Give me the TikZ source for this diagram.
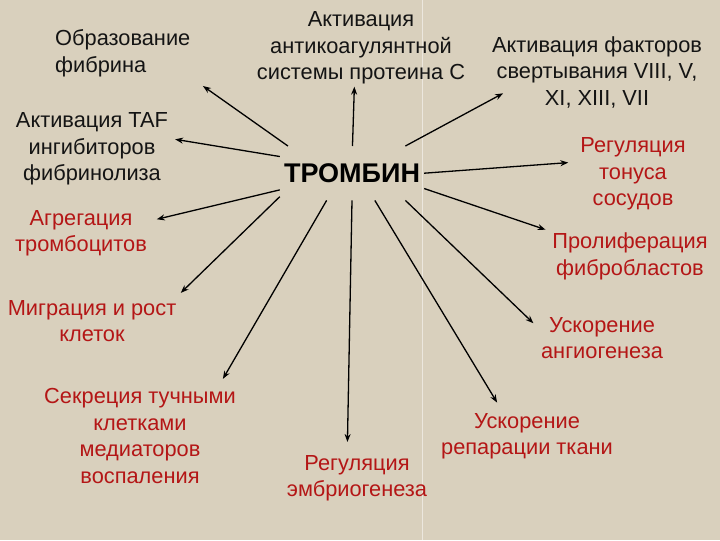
\documentclass[tikz,border=0pt]{standalone}
\usepackage{fontspec}
\setmainfont{Liberation Sans}
\usetikzlibrary{arrows.meta,calc}
\definecolor{bgtan}{RGB}{217,208,189}
\definecolor{effred}{RGB}{180,22,22}

\begin{document}
\begin{tikzpicture}[x=1pt,y=-1pt,
  lbl/.style={align=center, inner sep=1pt, text=black!92, font=\fontsize{21.8}{26.5}\selectfont},
  eff/.style={lbl, text=effred},
  hub/.style={font=\fontsize{27}{30}\selectfont\bfseries, minimum width=144pt, minimum height=54pt, inner sep=0pt},
  arr/.style={-{Stealth[length=8pt,width=6pt]}, line width=1.3pt}]
  \fill[bgtan] (0,0) rectangle (720,540);
  \draw[white, opacity=.5] (422,0) -- (422,540);

  \node[hub] (thr) at (352,173) {ТРОМБИН};

  \node[lbl, align=left, anchor=west] (fib) at (54,53) {Образование\\фибрина};
  \node[lbl] (anti) at (361,48) {Активация\\антикоагулянтной\\системы протеина С};
  \node[lbl] (fact) at (597,72) {Активация факторов\\свертывания VIII, V,\\XI, XIII, VII};
  \node[lbl] (taf) at (92,149) {Активация TAF\\ингибиторов\\фибринолиза};
  \node[eff] (tonus) at (633,174) {Регуляция\\тонуса\\сосудов};
  \node[eff] (agr) at (81,233) {Агрегация\\тромбоцитов};
  \node[eff] (prol) at (630,256) {Пролиферация\\фибробластов};
  \node[eff] (migr) at (92,321) {Миграция и рост\\клеток};
  \node[eff] (ang) at (602,338) {Ускорение\\ангиогенеза};
  \node[eff] (sec) at (140,436) {Секреция тучными\\клетками\\медиаторов\\воспаления};
  \node[eff] (emb) at (357,478) {Регуляция\\эмбриогенеза};
  \node[eff] (rep) at (527,436) {Ускорение\\репарации ткани};

  \draw[arr, shorten >=14pt] (thr.157) -- (fib.south east);
  \draw[arr, shorten >=1pt] (thr.89) -- (anti.260);
  \draw[arr, shorten >=-14pt] (thr.27) -- ($(fact.west)!.75!(fact.south west)$);
  \draw[arr, shorten >=6pt] (thr.167) -- (taf.8);
  \draw[arr, shorten >=11pt] (thr.east) -- (tonus.167);
  \draw[arr, shorten >=9pt] (thr.193) -- (agr.10);
  \draw[arr, shorten >=9pt] (thr.198) -- (migr.15);
  \draw[arr, shorten >=10pt] (thr.227) -- (sec.32);
  \draw[arr, shorten >=12pt] (thr.south) -- (emb.112);
  \draw[arr, shorten >=6pt] (thr.348) -- (prol.north west);
  \draw[arr, shorten >=9pt] (thr.333) -- (ang.172);
  \draw[arr, shorten >=11pt] (thr.310) -- (rep.135);
\end{tikzpicture}
\end{document}
